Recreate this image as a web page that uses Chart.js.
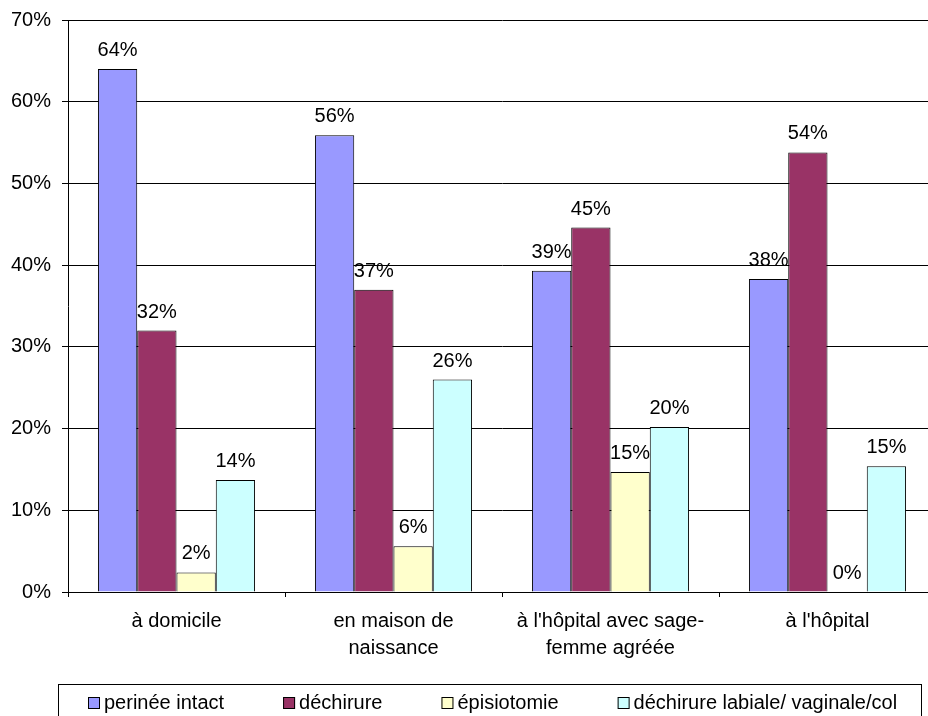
<!DOCTYPE html>
<html>
<head>
<meta charset="utf-8">
<script src="https://cdn.jsdelivr.net/npm/chart.js@4/dist/chart.umd.min.js"></script>
<style>
  html, body { margin: 0; padding: 0; background: #fff; overflow: hidden; }
  #wrap { position: absolute; left: 0; top: 0; width: 940px; height: 716px; }
</style>
</head>
<body>
<div id="wrap"><canvas id="birthChart" width="940" height="716"></canvas></div>
<script>
// categories (place of birth)
const categories = [
  ["à domicile"],
  ["en maison de", "naissance"],
  ["à l'hôpital avec sage-", "femme agréée"],
  ["à l'hôpital"]
];

// series values, in percent
const perineeIntact = [64.0, 55.9, 39.3, 38.3];
const dechirure = [32.0, 37.0, 44.6, 53.8];
const episiotomie = [2.4, 5.6, 14.7, 0];
const dechirureLabiale = [13.7, 26.0, 20.2, 15.4];

// y axis ticks
const yTicks = [0, 10, 20, 30, 40, 50, 60, 70];

const FONT = "'Liberation Sans', Arial, sans-serif";
const FONT_SIZE = 20;

// value labels above each bar
const barLabels = {
  id: "barLabels",
  afterDatasetsDraw(chart) {
    const ctx = chart.ctx;
    ctx.save();
    ctx.font = FONT_SIZE + "px " + FONT;
    ctx.fillStyle = "#000";
    ctx.textAlign = "center";
    ctx.textBaseline = "alphabetic";
    chart.data.datasets.forEach((ds, i) => {
      chart.getDatasetMeta(i).data.forEach((bar, j) => {
        ctx.fillText(Math.round(ds.data[j]) + "%", bar.x, bar.y - 13);
      });
    });
    ctx.restore();
  }
};

// boxed legend along the bottom
const boxLegend = {
  id: "boxLegend",
  afterDraw(chart) {
    const ctx = chart.ctx;
    ctx.save();
    ctx.strokeStyle = "#000";
    ctx.lineWidth = 1;
    ctx.strokeRect(58.5, 684.5, 863, 60);
    ctx.font = FONT_SIZE + "px " + FONT;
    ctx.textBaseline = "alphabetic";
    ctx.textAlign = "left";
    let x = 88;
    chart.data.datasets.forEach((ds) => {
      ctx.fillStyle = ds.backgroundColor;
      ctx.fillRect(x, 697, 12, 12);
      ctx.strokeRect(x + 0.5, 697.5, 11, 11);
      ctx.fillStyle = "#000";
      ctx.fillText(ds.label, x + 16, 709);
      x += 16 + ctx.measureText(ds.label).width + 59;
    });
    ctx.restore();
  }
};

const data = {
  labels: categories,
  datasets: [
    { label: "perinée intact", data: perineeIntact, backgroundColor: "#9999FF" },
    { label: "déchirure", data: dechirure, backgroundColor: "#993366" },
    { label: "épisiotomie", data: episiotomie, backgroundColor: "#FFFFCC" },
    { label: "déchirure labiale/ vaginale/col", data: dechirureLabiale, backgroundColor: "#CCFFFF" }
  ].map((d) => Object.assign(d, {
    borderColor: "#000",
    borderWidth: 1,
    categoryPercentage: 0.724,
    barPercentage: 1
  }))
};

const config = {
  type: "bar",
  data: data,
  options: {
    responsive: false,
    animation: false,
    layout: { padding: { top: 20, right: 4, left: 0, bottom: 0 } },
    plugins: {
      legend: { display: false },
      tooltip: { enabled: false }
    },
    scales: {
      y: {
        min: 0,
        max: 70,
        afterFit(scale) {
          scale.width = 68;
          scale.paddingTop = 0;
          scale.paddingBottom = 0;
        },
        afterBuildTicks(scale) { scale.ticks = yTicks.map((v) => ({ value: v })); },
        border: { display: true, color: "#000", width: 1 },
        grid: { color: "#000", lineWidth: 1, tickLength: 6 },
        ticks: {
          padding: 11,
          color: "#000",
          font: { family: FONT, size: FONT_SIZE },
          callback: (v) => v + "%"
        }
      },
      x: {
        afterFit(scale) {
          scale.height = 124;
          scale.paddingLeft = 0;
          scale.paddingRight = 0;
        },
        border: { display: true, color: "#000", width: 1 },
        grid: { drawOnChartArea: false, color: "#000", tickLength: 5 },
        ticks: {
          padding: 11,
          color: "#000",
          maxRotation: 0,
          autoSkip: false,
          font: { family: FONT, size: FONT_SIZE, lineHeight: 1.35 }
        }
      }
    }
  },
  plugins: [barLabels, boxLegend]
};

new Chart(document.getElementById("birthChart"), config);
</script>
</body>
</html>
